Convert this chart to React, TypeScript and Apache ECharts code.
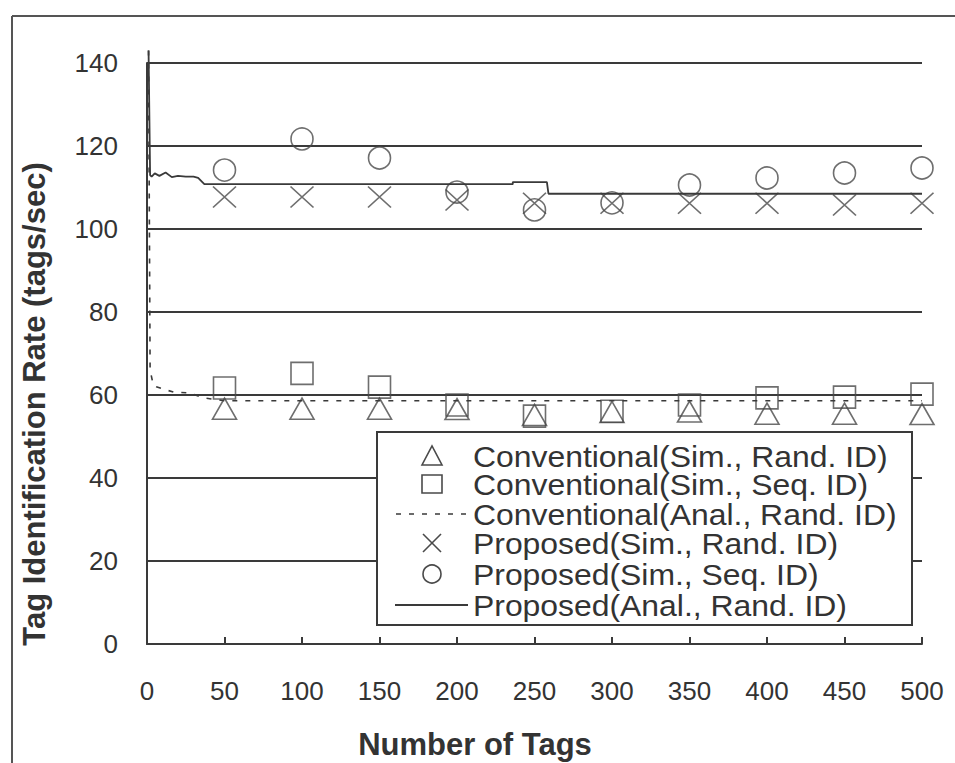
import React, { useEffect, useRef } from "react";
import * as echarts from "echarts";

const xTickMin = 0;
const xTickMax = 500;
const xTickStep = 50;
const yTickMin = 0;
const yTickMax = 140;
const yTickStep = 20;

const simN = [50, 100, 150, 200, 250, 300, 350, 400, 450, 500];
const convSimRand = [56.7, 56.7, 56.7, 56.6, 55.2, 55.9, 56.0, 55.5, 55.5, 55.4];
const convSimSeq = [61.7, 65.2, 61.9, 57.6, 54.9, 56.1, 57.6, 59.3, 59.5, 60.2];
const propSimRand = [107.7, 107.7, 107.7, 107.0, 106.2, 106.2, 106.2, 106.2, 105.8, 106.2];
const propSimSeq = [114.2, 121.7, 117.1, 108.9, 104.6, 106.3, 110.6, 112.3, 113.5, 114.7];

const convAnalN = [1, 2, 4, 6, 10, 17, 27, 37, 50, 500];
const convAnalV = [143, 66, 62.5, 62, 61.5, 60.7, 60.5, 59.3, 58.6, 58.6];
const propAnalN = [1, 2, 3, 5, 8, 12, 16, 20, 25, 30, 33, 37, 236, 236, 258, 259, 500];
const propAnalV = [143, 113, 112.6, 113.4, 112.8, 113.6, 112.5, 112.8, 112.6, 112.6, 112.3, 110.8, 110.8, 111.3, 111.3, 108.5, 108.5];

const legendNames = [
  "Conventional(Sim., Rand. ID)",
  "Conventional(Sim., Seq. ID)",
  "Conventional(Anal., Rand. ID)",
  "Proposed(Sim., Rand. ID)",
  "Proposed(Sim., Seq. ID)",
  "Proposed(Anal., Rand. ID)",
];

const INK = "#3a3a3a";
const SYM = "#4a4a4a";
const FONT = "'Liberation Sans', Arial, sans-serif";

const pair = (xs: number[], ys: number[]) => xs.map((x, i) => [x, ys[i]]);

export default function App() {
  const ref = useRef<HTMLDivElement>(null);
  useEffect(() => {
    if (!ref.current) return;
    const chart = echarts.init(ref.current, undefined, { renderer: "svg" });
    const hollow = { color: "rgba(0,0,0,0)", borderColor: SYM, borderWidth: 1.6 };
    const legendRows = [456, 484, 514, 543, 574, 605];
    const lx = 432;
    const textX = 473;
    const legendEls: any[] = [
      {
        type: "rect",
        z: 100,
        shape: { x: 377, y: 432, width: 535, height: 193 },
        style: { fill: "#fff", stroke: INK, lineWidth: 2 },
      },
      {
        type: "polygon",
        z: 101,
        shape: { points: [[lx - 10, legendRows[0] + 9], [lx + 10, legendRows[0] + 9], [lx, legendRows[0] - 10]] },
        style: { fill: "none", stroke: SYM, lineWidth: 1.6 },
      },
      {
        type: "rect",
        z: 101,
        shape: { x: lx - 10, y: legendRows[1] - 9, width: 20, height: 18 },
        style: { fill: "none", stroke: SYM, lineWidth: 1.6 },
      },
      {
        type: "line",
        z: 101,
        shape: { x1: 396, y1: legendRows[2], x2: 466, y2: legendRows[2] },
        style: { stroke: INK, lineWidth: 1.6, lineDash: [5, 8] },
      },
      {
        type: "line",
        z: 101,
        shape: { x1: lx - 9, y1: legendRows[3] - 9, x2: lx + 9, y2: legendRows[3] + 9 },
        style: { stroke: SYM, lineWidth: 1.6 },
      },
      {
        type: "line",
        z: 101,
        shape: { x1: lx + 9, y1: legendRows[3] - 9, x2: lx - 9, y2: legendRows[3] + 9 },
        style: { stroke: SYM, lineWidth: 1.6 },
      },
      {
        type: "circle",
        z: 101,
        shape: { cx: lx, cy: legendRows[4], r: 9 },
        style: { fill: "none", stroke: SYM, lineWidth: 1.6 },
      },
      {
        type: "line",
        z: 101,
        shape: { x1: 395, y1: legendRows[5], x2: 468, y2: legendRows[5] },
        style: { stroke: INK, lineWidth: 1.8 },
      },
    ];
    legendNames.forEach((name, i) => {
      legendEls.push({
        type: "text",
        z: 102,
        x: textX,
        y: legendRows[i] + 1,
        scaleX: 1.1,
        style: {
          text: name,
          font: `29px ${FONT}`,
          fill: "#333",
          textAlign: "left",
          textVerticalAlign: "middle",
        },
      });
    });

    chart.setOption({
      animation: false,
      backgroundColor: "#fff",
      grid: { left: 147, right: 33, top: 63, bottom: 119, containLabel: false, outerBoundsMode: "none" },
      xAxis: {
        type: "value",
        min: xTickMin,
        max: xTickMax,
        interval: xTickStep,
        axisLine: { show: true, onZero: false, lineStyle: { color: INK, width: 2 } },
        axisTick: { show: true, inside: true, length: 7, lineStyle: { color: INK, width: 2 } },
        axisLabel: { margin: 34, fontSize: 26, color: "#333", fontFamily: FONT },
        splitLine: { show: false },
      },
      yAxis: {
        type: "value",
        min: yTickMin,
        max: yTickMax,
        interval: yTickStep,
        axisLine: { show: true, lineStyle: { color: INK, width: 2 } },
        axisTick: { show: false },
        axisLabel: { margin: 29, fontSize: 26, color: "#333", fontFamily: FONT },
        splitLine: { show: true, lineStyle: { color: INK, width: 2 } },
      },
      series: [
        {
          name: legendNames[0],
          type: "scatter",
          symbol: "triangle",
          symbolSize: [24, 21],
          itemStyle: hollow,
          data: pair(simN, convSimRand),
        },
        {
          name: legendNames[1],
          type: "scatter",
          symbol: "rect",
          symbolSize: 22,
          itemStyle: hollow,
          data: pair(simN, convSimSeq),
        },
        {
          name: legendNames[2],
          type: "line",
          symbol: "none",
          clip: false,
          lineStyle: { color: INK, width: 1.6, type: [5, 8] },
          data: pair(convAnalN, convAnalV),
        },
        {
          name: legendNames[3],
          type: "scatter",
          symbol: "path://M0,0L10,10M10,0L0,10",
          symbolSize: [23, 21],
          itemStyle: hollow,
          data: pair(simN, propSimRand),
        },
        {
          name: legendNames[4],
          type: "scatter",
          symbol: "circle",
          symbolSize: 22,
          itemStyle: hollow,
          data: pair(simN, propSimSeq),
        },
        {
          name: legendNames[5],
          type: "line",
          symbol: "none",
          clip: false,
          lineStyle: { color: INK, width: 1.8 },
          data: pair(propAnalN, propAnalV),
        },
      ],
      graphic: [
        {
          type: "line",
          z: 100,
          shape: { x1: 12, y1: 16, x2: 955, y2: 16 },
          style: { stroke: "#555", lineWidth: 2 },
        },
        {
          type: "line",
          z: 100,
          shape: { x1: 12, y1: 16, x2: 12, y2: 763 },
          style: { stroke: "#555", lineWidth: 2 },
        },
        {
          type: "text",
          z: 100,
          x: 475,
          y: 744,
          style: {
            text: "Number of Tags",
            font: `bold 31px ${FONT}`,
            fill: "#333",
            textAlign: "center",
            textVerticalAlign: "middle",
          },
        },
        {
          type: "text",
          z: 100,
          x: 34,
          y: 404,
          rotation: Math.PI / 2,
          style: {
            text: "Tag Identification Rate (tags/sec)",
            font: `bold 31px ${FONT}`,
            fill: "#333",
            textAlign: "center",
            textVerticalAlign: "middle",
          },
        },
        ...legendEls,
      ],
    });
    return () => chart.dispose();
  }, []);
  return (
    <div
      ref={ref}
      style={{ position: "fixed", left: 0, top: 0, width: 955, height: 763, background: "#fff" }}
    />
  );
}
